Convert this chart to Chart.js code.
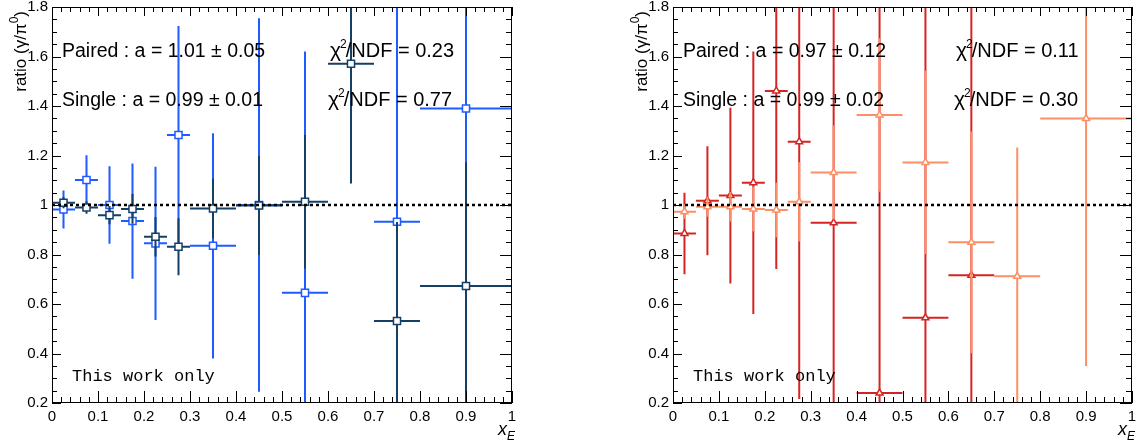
<!DOCTYPE html>
<html>
<head>
<meta charset="utf-8">
<script src="https://cdn.jsdelivr.net/npm/chart.js@4.4.0/dist/chart.umd.min.js"></script>
<style>
  html, body { margin: 0; padding: 0; background: #fff; width: 1139px; height: 446px; overflow: hidden; }
  canvas { position: absolute; top: 0; }
  #left { left: 0; }
  #right { left: 621px; }
</style>
</head>
<body>
<canvas id="left" width="560" height="446"></canvas>
<canvas id="right" width="518" height="446"></canvas>
<script>
// ======================
// DATA
// ======================
const xE    = [0.025, 0.075, 0.125, 0.175, 0.225, 0.275, 0.35, 0.45, 0.55, 0.65, 0.75, 0.9];
const xHalf = [0.025, 0.025, 0.025, 0.025, 0.025, 0.025, 0.05, 0.05, 0.05, 0.05, 0.05, 0.1];

// left panel (squares)
const pairedLeft    = [0.982, 1.101, 1.000, 0.935, 0.845, 1.283, 0.835, 1.000, 0.645, null, 0.932, 1.390];
const pairedLeftErr = [0.077, 0.100, 0.157, 0.233, 0.310, 0.440, 0.455, 0.755, 0.975, null, 1.000, 1.250];
const singleLeft    = [1.009, 0.990, 0.959, 0.984, 0.872, 0.831, 0.986, 0.998, 1.013, 1.571, 0.531, 0.673];
const singleLeftErr = [0.022, 0.025, 0.037, 0.060, 0.080, 0.115, 0.120, 0.200, 0.270, 0.484, 0.400, 0.500];

// right panel (triangles)
const pairedRight    = [0.885, 1.017, 1.038, 1.090, 1.461, 1.256, 0.928, 0.240, 0.544, 0.716, null, null];
const pairedRightErr = [0.165, 0.220, 0.355, 0.530, 0.720, 1.040, 1.100, 1.700, 1.300, 1.200, null, null];
const singleRight    = [0.973, 0.993, 0.993, 0.984, 0.980, 1.013, 1.131, 1.364, 1.172, 0.849, 0.712, 1.349];
const singleRightErr = [0.030, 0.040, 0.060, 0.090, 0.110, 0.160, 0.190, 0.310, 0.370, 0.448, 0.520, 1.000];

const yRange = [0.2, 1.8];
const xRange = [0, 1];
const refLine = 1;

const SANS = "'Liberation Sans', Arial, sans-serif";
const MONO = "'Liberation Mono', 'Courier New', monospace";

function points(vals, errs) {
  const out = [];
  vals.forEach((v, i) => {
    if (v === null) return;
    out.push({ x: xE[i], y: v, xe: xHalf[i], ye: errs[i] });
  });
  return out;
}

// ======================
// PLUGINS
// ======================
const errorBars = {
  id: 'errorBars',
  beforeDatasetDraw(chart, args) {
    const ds = chart.data.datasets[args.index];
    const { ctx, chartArea: a, scales: { x, y } } = chart;
    ctx.save();
    ctx.beginPath();
    ctx.rect(a.left, a.top, a.right - a.left, a.bottom - a.top);
    ctx.clip();
    ctx.strokeStyle = ds.borderColor;
    ctx.lineWidth = 2;
    ds.data.forEach(p => {
      const px = x.getPixelForValue(p.x), py = y.getPixelForValue(p.y);
      ctx.beginPath();
      ctx.moveTo(x.getPixelForValue(p.x - p.xe), py);
      ctx.lineTo(x.getPixelForValue(p.x + p.xe), py);
      ctx.moveTo(px, y.getPixelForValue(p.y + p.ye));
      ctx.lineTo(px, y.getPixelForValue(p.y - p.ye));
      ctx.stroke();
    });
    ctx.restore();
  }
};

function seg(ctx, x1, y1, x2, y2) {
  ctx.beginPath(); ctx.moveTo(x1, y1); ctx.lineTo(x2, y2); ctx.stroke();
}

const frame = {
  id: 'frame',
  afterDatasetsDraw(chart) {
    const { ctx, chartArea: a, scales: { x, y } } = chart;
    ctx.save();
    // dotted reference line
    ctx.strokeStyle = '#000';
    ctx.lineWidth = 2.5;
    ctx.setLineDash([3, 3]);
    const yr = y.getPixelForValue(refLine);
    seg(ctx, a.left, yr, a.right, yr);
    ctx.setLineDash([]);

    // box + ticks
    ctx.lineWidth = 1;
    ctx.strokeRect(a.left + 0.5, a.top + 0.5, a.right - a.left - 1, a.bottom - a.top - 1);
    for (let i = 0; i <= 32; i++) {
      const py = Math.round(y.getPixelForValue(yRange[0] + i * 0.05)) + 0.5;
      const major = i % 4 === 0;
      seg(ctx, a.left, py, a.left + (major ? 9 : 5), py);
      seg(ctx, a.right, py, a.right - (major ? 12 : 6), py);
    }
    for (let i = 0; i <= 50; i++) {
      const px = Math.round(x.getPixelForValue(xRange[0] + i * 0.02)) + 0.5;
      const major = i % 5 === 0;
      seg(ctx, px, a.bottom, px, a.bottom - (major ? 12 : 6));
      seg(ctx, px, a.top, px, a.top + (major ? 9 : 5));
    }
    ctx.restore();
  }
};

function drawChi(ctx, x0, y0, val) {
  ctx.font = '21px ' + SANS;
  ctx.fillText('χ', x0, y0);
  let w = ctx.measureText('χ').width;
  ctx.font = '12px ' + SANS;
  ctx.fillText('2', x0 + w - 1, y0 - 9);
  w += ctx.measureText('2').width;
  ctx.font = '20px ' + SANS;
  ctx.fillText('/NDF = ' + val, x0 + w - 2, y0);
}

const notes = {
  id: 'notes',
  afterDraw(chart, args, opts) {
    const { ctx, chartArea: a } = chart;
    ctx.save();
    ctx.fillStyle = '#000';
    ctx.textBaseline = 'alphabetic';
    ctx.textAlign = 'left';

    ctx.font = '19.5px ' + SANS;
    ctx.fillText(opts.paired, a.left + 10, 57);
    ctx.fillText(opts.single, a.left + 10, 106);
    drawChi(ctx, a.left + opts.chiX, 57, opts.chiPaired);
    drawChi(ctx, a.left + opts.chiX - 2, 106, opts.chiSingle);

    ctx.font = '17px ' + MONO;
    ctx.fillText('This work only', a.left + 20, 381);

    // y title, rotated, right aligned to the top
    ctx.save();
    ctx.translate(a.left - 26, 11);
    ctx.rotate(-Math.PI / 2);
    const parts = [['ratio (γ/π', 17, 0], ['0', 12, -8], [')', 17, 0]];
    let total = 0;
    parts.forEach(p => { ctx.font = p[1] + 'px ' + SANS; total += ctx.measureText(p[0]).width; });
    let cx = -total;
    parts.forEach(p => {
      ctx.font = p[1] + 'px ' + SANS;
      ctx.fillText(p[0], cx, p[2]);
      cx += ctx.measureText(p[0]).width;
    });
    ctx.restore();

    // x title
    ctx.font = 'italic 12px ' + SANS;
    const wE = ctx.measureText('E').width;
    ctx.fillText('E', a.right + 3 - wE, 440);
    ctx.font = 'italic 18px ' + SANS;
    const wx = ctx.measureText('x').width;
    ctx.fillText('x', a.right + 3 - wE - wx, 435);
    ctx.restore();
  }
};

// ======================
// CHART BUILDER
// ======================
function fmt(v) { return String(+v.toFixed(1)); }

function makePanel(id, datasets, padRight, noteOpts) {
  return new Chart(document.getElementById(id), {
    type: 'scatter',
    data: { datasets },
    options: {
      responsive: false,
      animation: false,
      devicePixelRatio: 1,
      layout: { padding: { top: 7, right: padRight, left: 0, bottom: 0 } },
      plugins: { legend: { display: false }, tooltip: { enabled: false }, notes: noteOpts },
      scales: {
        x: {
          type: 'linear', min: xRange[0], max: xRange[1],
          grid: { display: false, drawTicks: false }, border: { display: false },
          ticks: { stepSize: 0.1, autoSkip: false, maxRotation: 0, padding: 6,
                   color: '#000', font: { family: SANS, size: 15, lineHeight: 1 }, callback: fmt },
          afterFit(s) { s.height = 43; s.paddingLeft = 0; s.paddingRight = 0; }
        },
        y: {
          type: 'linear', min: yRange[0], max: yRange[1],
          grid: { display: false, drawTicks: false }, border: { display: false },
          ticks: { stepSize: 0.2, autoSkip: false, padding: 4,
                   color: '#000', font: { family: SANS, size: 15, lineHeight: 1 }, callback: fmt },
          afterFit(s) { s.width = 52; s.paddingTop = 0; s.paddingBottom = 0; }
        }
      }
    },
    plugins: [errorBars, frame, notes]
  });
}

function series(vals, errs, color, shape, radius) {
  return {
    data: points(vals, errs),
    borderColor: color,
    backgroundColor: '#fff',
    pointStyle: shape,
    pointRadius: radius,
    pointBorderWidth: 1.5,
    showLine: false
  };
}

// index 0 is drawn last (on top)
makePanel('left', [
  series(singleLeft, singleLeftErr, '#143f66', 'rect', 5),
  series(pairedLeft, pairedLeftErr, '#1f5bff', 'rect', 5)
], 48, {
  paired: 'Paired : a = 1.01 ± 0.05', single: 'Single : a = 0.99 ± 0.01',
  chiPaired: '0.23', chiSingle: '0.77', chiX: 278
});

makePanel('right', [
  series(singleRight, singleRightErr, '#fc8f66', 'triangle', 4),
  series(pairedRight, pairedRightErr, '#d62424', 'triangle', 4)
], 7, {
  paired: 'Paired : a = 0.97 ± 0.12', single: 'Single : a = 0.99 ± 0.02',
  chiPaired: '0.11', chiSingle: '0.30', chiX: 283
});
</script>
</body>
</html>
